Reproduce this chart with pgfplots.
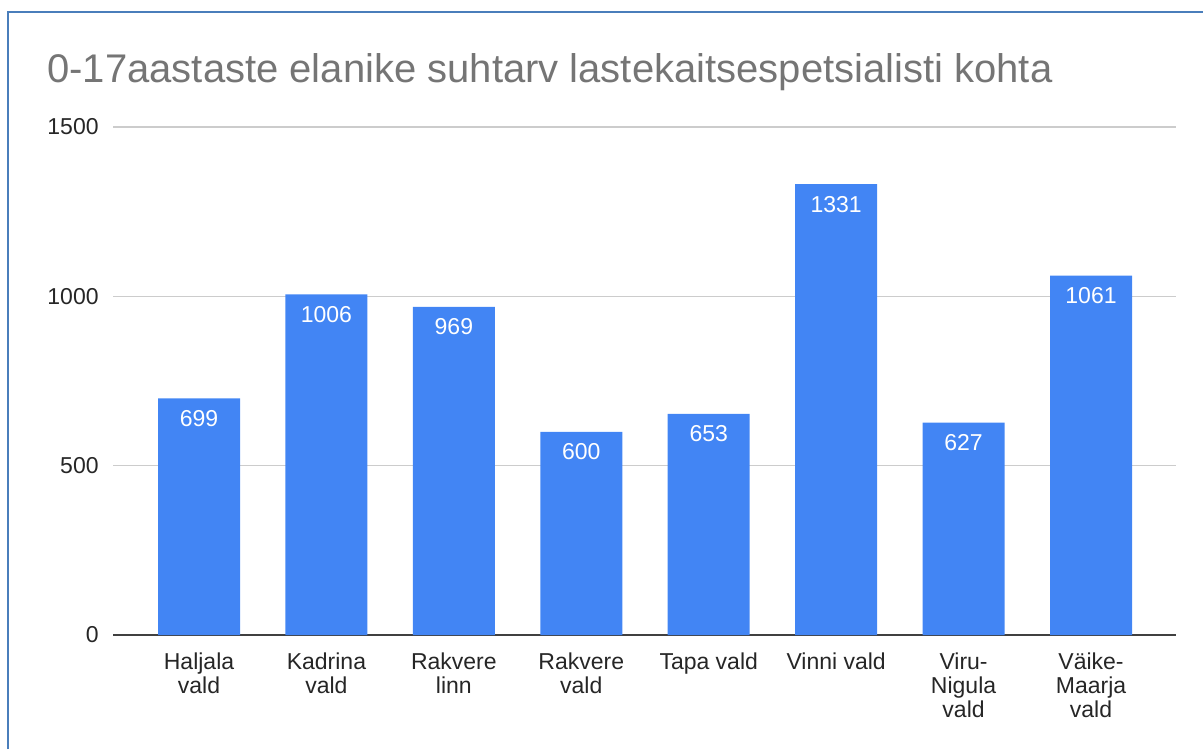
\documentclass[border=0pt]{standalone}
\usepackage{fontspec}
\setmainfont{Liberation Sans}
\usepackage{pgfplots}
\pgfplotsset{compat=1.18}
\definecolor{barblue}{HTML}{4285F4}
\definecolor{titlegray}{HTML}{757575}
\definecolor{framecol}{HTML}{4A7EBB}
\begin{document}
\begin{tikzpicture}
\useasboundingbox (0,0) rectangle (601.5pt,374.5pt);
\draw[framecol, line width=0.8pt] (4pt,0) -- (4pt,368.5pt) -- (601.5pt,368.5pt);
\node[anchor=base west, inner sep=0pt, text=titlegray, font=\fontsize{20pt}{23pt}\selectfont] at (23.5pt,333pt) {0-17aastaste elanike suhtarv lastekaitsespetsialisti kohta};
\begin{axis}[
  at={(56.5pt,57pt)}, anchor=south west,
  scale only axis, width=531.5pt, height=254pt,
  ymin=0, ymax=1500, xmin=-0.675, xmax=7.667,
  ytick={0,500,1000,1500},
  ymajorgrids, grid style={black!20, line width=0.6pt},
  axis x line*=bottom, axis y line*=left,
  y axis line style={draw=none},
  x axis line style={black!75, line width=0.7pt, -},
  xtick style={draw=none}, ytick style={draw=none},
  /pgf/number format/assume math mode=true,
  /pgf/number format/1000 sep={},
  yticklabel style={anchor=east, inner sep=0pt, xshift=-7pt, text=black!85, font=\fontsize{11.5pt}{12pt}\selectfont},
  xticklabel style={anchor=north, inner sep=0pt, yshift=-4.5pt, align=center, text=black!85, font=\fontsize{11.5pt}{12pt}\selectfont},
  xtick=data,
  xticklabels={{Haljala\\vald},{Kadrina\\vald},{Rakvere\\linn},{Rakvere\\vald},{Tapa vald},{Vinni vald},{Viru-\\Nigula\\vald},{Väike-\\Maarja\\vald}},
  ybar, bar width=41pt,
  nodes near coords,
  every node near coord/.append style={anchor=center, yshift=-10pt, text=white, font=\fontsize{11.5pt}{12pt}\selectfont},
]
\addplot[fill=barblue, draw=none] coordinates {
(0,699) (1,1006) (2,969) (3,600) (4,653) (5,1331) (6,627) (7,1061)};
\end{axis}
\end{tikzpicture}
\end{document}
